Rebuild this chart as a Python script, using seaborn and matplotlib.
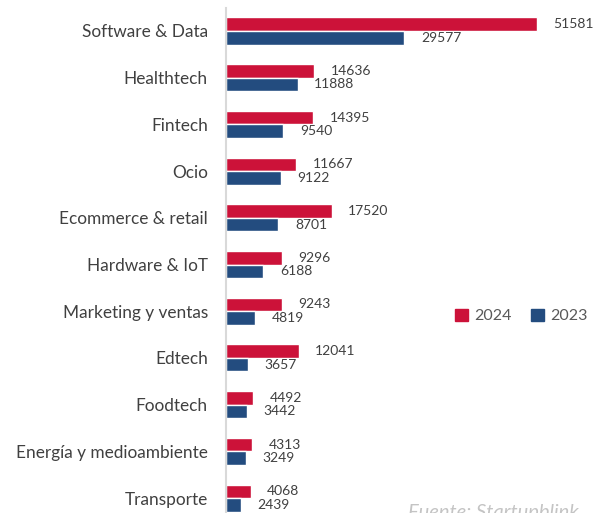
import pandas as pd
import matplotlib.pyplot as plt
import seaborn as sns

categorias = [
    "Software & Data", "Healthtech", "Fintech", "Ocio", "Ecommerce & retail",
    "Hardware & IoT", "Marketing y ventas", "Edtech", "Foodtech",
    "Energía y medioambiente", "Transporte",
]
valores_2024 = [51581, 14636, 14395, 11667, 17520, 9296, 9243, 12041, 4492, 4313, 4068]
valores_2023 = [29577, 11888, 9540, 9122, 8701, 6188, 4819, 3657, 3442, 3249, 2439]
anios = ["2024", "2023"]
colores = ["#CC1239", "#234C7F"]

df = pd.DataFrame({
    "categoria": categorias * 2,
    "valor": valores_2024 + valores_2023,
    "anio": ["2024"] * len(categorias) + ["2023"] * len(categorias),
})

sns.set_style("white")
plt.rcParams["font.family"] = ["Lato", "DejaVu Sans"]

fig = plt.figure(figsize=(6.07, 5.13), dpi=100)
# axes: left edge at x=226px, top at ~7.6px, runs past the bottom of the image
ax = fig.add_axes([226 / 607, 0, 1 - 226 / 607, (513 - 7.6) / 513])

sns.barplot(
    data=df, y="categoria", x="valor", hue="anio",
    order=categorias, hue_order=anios, palette=colores,
    width=0.58, saturation=1, orient="h", ax=ax, legend=False,
)

for cont in ax.containers:
    ax.bar_label(cont, fmt="%d", padding=12, fontsize=10, color="#404040")

ax.set_xlim(0, 51581 * 380 / 310)
ax.set_ylim(10.32, -0.5)
ax.set_xlabel("")
ax.set_ylabel("")
ax.set_xticks([])
ax.tick_params(axis="y", length=0, pad=13, labelsize=12.4, labelcolor="#404040")
for s in ["top", "right", "bottom"]:
    ax.spines[s].set_visible(False)
ax.spines["left"].set_color("#D9D9D9")
ax.spines["left"].set_linewidth(1.5)

handles = [plt.Rectangle((0, 0), 1, 1, color=c) for c in colores]
fig.legend(
    handles, anios, loc="center left", bbox_to_anchor=(441 / 607, 1 - 316 / 513),
    ncol=2, frameon=False, fontsize=11.5, labelcolor="#595959",
    handlelength=0.8, handleheight=0.8, handletextpad=0.4, columnspacing=1.2,
)

# fuente, cortada por el borde inferior como en el original
fig.text(408 / 607, 1 - 518 / 513, "Fuente: Startupblink", fontsize=14.5,
         style="italic", color="#C4C4C4", va="baseline")

fig.savefig("out.png", dpi=100)
